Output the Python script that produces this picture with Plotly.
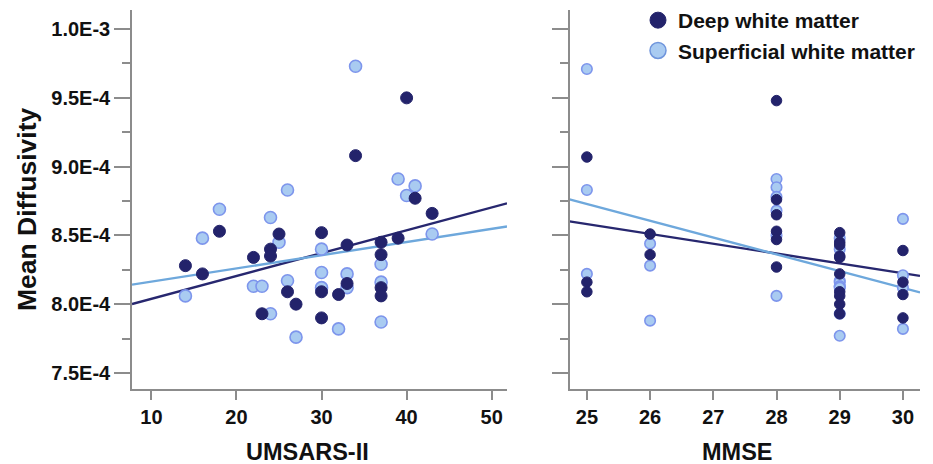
import numpy as np
import plotly.graph_objects as go

# ---------------- data (MD values in units of 1E-4) ----------------
umsars_deep = [14, 16, 18, 22, 23, 24, 24, 25, 26, 27, 30, 30, 30, 32, 33, 33, 34,
               37, 37, 37, 37, 39, 40, 41, 43]
md_deep_u = [8.28, 8.22, 8.53, 8.34, 7.93, 8.40, 8.35, 8.51, 8.09, 8.00, 8.52, 8.09,
             7.90, 8.07, 8.43, 8.15, 9.08, 8.45, 8.36, 8.12, 8.06, 8.48, 9.50, 8.77, 8.66]

umsars_sup = [14, 16, 18, 22, 23, 24, 24, 25, 26, 26, 27, 30, 30, 30, 32, 33, 33, 34,
              37, 37, 37, 39, 40, 41, 43]
md_sup_u = [8.06, 8.48, 8.69, 8.13, 8.13, 8.63, 7.93, 8.45, 8.83, 8.17, 7.76, 8.40,
            8.23, 8.12, 7.82, 8.22, 8.12, 9.73, 8.29, 8.16, 7.87, 8.91, 8.79, 8.86, 8.51]

mmse_deep = [25, 25, 25, 26, 26, 28, 28, 28, 28, 28, 28,
             29, 29, 29, 29, 29, 29, 29, 29, 29, 29, 30, 30, 30, 30]
md_deep_m = [9.07, 8.16, 8.09, 8.51, 8.36, 9.48, 8.76, 8.65, 8.53, 8.47, 8.27,
             8.52, 8.45, 8.43, 8.35, 8.34, 8.22, 8.09, 8.06, 8.00, 7.93,
             8.39, 8.16, 8.07, 7.90]

mmse_sup = [25, 25, 25, 26, 26, 26, 28, 28, 28, 28, 28, 28,
            29, 29, 29, 29, 29, 29, 29, 29, 29, 30, 30, 30, 30]
md_sup_m = [9.71, 8.83, 8.22, 8.44, 8.28, 7.88, 8.91, 8.85, 8.78, 8.68, 8.50, 8.06,
            8.48, 8.40, 8.17, 8.16, 8.13, 8.13, 8.12, 7.93, 7.77,
            8.62, 8.21, 8.12, 7.82]

# regression lines: (slope, intercept) in 1E-4 units
fit_umsars_deep = [0.01663, 7.872]
fit_umsars_sup = [0.0096, 8.068]
fit_mmse_deep = [-0.0714, 10.367]
fit_mmse_sup = [-0.122, 11.778]

series_names = ["Deep white matter", "Superficial white matter"]
y_tickvals_e4 = [7.5, 8.0, 8.5, 9.0, 9.5, 10.0]
y_ticktext = ["7.5E-4", "8.0E-4", "8.5E-4", "9.0E-4", "9.5E-4", "1.0E-3"]
umsars_ticks = [10, 20, 30, 40, 50]
mmse_ticks = [25, 26, 27, 28, 29, 30]

# ---------------- styling ----------------
DARK = "#23236b"
DARK_LINE = "#27276f"
LIGHT_FILL = "#a9cbf1"
LIGHT_EDGE = "#7d95ec"
LIGHT_LINE = "#6ea8dc"
AXIS = "#8c8c8c"
FONT = "Liberation Sans, Arial, sans-serif"

E4 = 1e-4
xr_left = [7.72, 51.8]
xr_right = [24.725, 30.27]
yr = [7.383e-4, 1.0139e-3]

fig = go.Figure()


def add_panel(xd, yd, xs, ys, fit_d, fit_s, xaxis, yaxis, xr, msize):
    xd = np.array(xd, float); yd = np.array(yd) * E4
    xs = np.array(xs, float); ys = np.array(ys) * E4
    xx = np.array(xr, float)
    for (k, b), col in ((fit_d, DARK_LINE), (fit_s, LIGHT_LINE)):
        fig.add_trace(go.Scatter(x=xx, y=(k * xx + b) * E4, mode="lines", xaxis=xaxis,
                                 yaxis=yaxis, line=dict(color=col, width=2.4),
                                 showlegend=False, hoverinfo="skip"))
    fig.add_trace(go.Scatter(x=xs, y=ys, mode="markers", xaxis=xaxis, yaxis=yaxis,
                             name=series_names[1], showlegend=False,
                             marker=dict(size=msize, color=LIGHT_FILL,
                                         line=dict(color=LIGHT_EDGE, width=1.6))))
    fig.add_trace(go.Scatter(x=xd, y=yd, mode="markers", xaxis=xaxis, yaxis=yaxis,
                             name=series_names[0], showlegend=False,
                             marker=dict(size=msize, color=DARK,
                                         line=dict(color=DARK, width=1))))


add_panel(umsars_deep, md_deep_u, umsars_sup, md_sup_u, fit_umsars_deep, fit_umsars_sup,
          "x", "y", xr_left, 12)
add_panel(mmse_deep, md_deep_m, mmse_sup, md_sup_m, fit_mmse_deep, fit_mmse_sup,
          "x2", "y2", xr_right, 10.5)

# legend entries
fig.add_trace(go.Scatter(x=[None], y=[None], mode="markers", xaxis="x2", yaxis="y2",
                         name=series_names[0],
                         marker=dict(size=20, color=DARK, line=dict(color=DARK, width=1))))
fig.add_trace(go.Scatter(x=[None], y=[None], mode="markers", xaxis="x2", yaxis="y2",
                         name=series_names[1],
                         marker=dict(size=20, color=LIGHT_FILL, line=dict(color="#6f95dc", width=1.5))))

tickfont = dict(family=FONT, size=20, color="#111111", weight="bold")
minor_vals = [v * E4 for v in np.arange(7.25, 10.26, 0.5)]

yaxis_common = dict(range=yr, showgrid=False, zeroline=False, showline=True,
                    linecolor=AXIS, linewidth=1.5, ticks="outside", ticklen=16,
                    tickwidth=1.5, tickcolor=AXIS,
                    tickvals=[v * E4 for v in y_tickvals_e4], ticktext=y_ticktext,
                    minor=dict(tickvals=minor_vals, ticks="outside", ticklen=8,
                               tickwidth=1.5, tickcolor=AXIS),
                    domain=[75 / 464, 454 / 464], tickfont=tickfont)
xaxis_common = dict(showgrid=False, zeroline=False, showline=True, linecolor=AXIS,
                    linewidth=1.5, ticks="outside", ticklen=9, tickwidth=1.5,
                    tickcolor=AXIS, tickfont=tickfont)

fig.update_layout(
    width=933, height=464,
    margin=dict(l=0, r=0, t=0, b=0),
    paper_bgcolor="white", plot_bgcolor="white",
    font=dict(family=FONT, color="#111111"),
    xaxis=dict(xaxis_common, range=xr_left, domain=[132 / 933, 507 / 933],
               tickvals=umsars_ticks, anchor="y"),
    yaxis=dict(yaxis_common, anchor="x"),
    xaxis2=dict(xaxis_common, range=xr_right, domain=[569.5 / 933, 920 / 933],
                tickvals=mmse_ticks, anchor="y2"),
    yaxis2=dict(yaxis_common, anchor="x2", showticklabels=False),
    legend=dict(x=638 / 933, y=1.0, xanchor="left", yanchor="top",
                bgcolor="rgba(0,0,0,0)", tracegroupgap=0,
                font=dict(family=FONT, size=21, color="#111111", weight="bold")),
    showlegend=True,
    annotations=[
        dict(text="<b>Mean Diffusivity</b>", textangle=-90, x=27 / 933, y=(464 - 210) / 464,
             xref="paper", yref="paper", showarrow=False, xanchor="center", yanchor="middle",
             font=dict(family=FONT, size=26.5, color="#111111")),
        dict(text="<b>UMSARS-II</b>", x=307 / 933, y=(464 - 452) / 464,
             xref="paper", yref="paper", showarrow=False, xanchor="center", yanchor="middle",
             font=dict(family=FONT, size=23.5, color="#111111")),
        dict(text="<b>MMSE</b>", x=737 / 933, y=(464 - 452) / 464,
             xref="paper", yref="paper", showarrow=False, xanchor="center", yanchor="middle",
             font=dict(family=FONT, size=23.5, color="#111111")),
    ],
)

fig.write_html("out.html", config={"displayModeBar": False},
               post_script="document.body.style.margin='0';document.body.style.overflow='hidden';")
